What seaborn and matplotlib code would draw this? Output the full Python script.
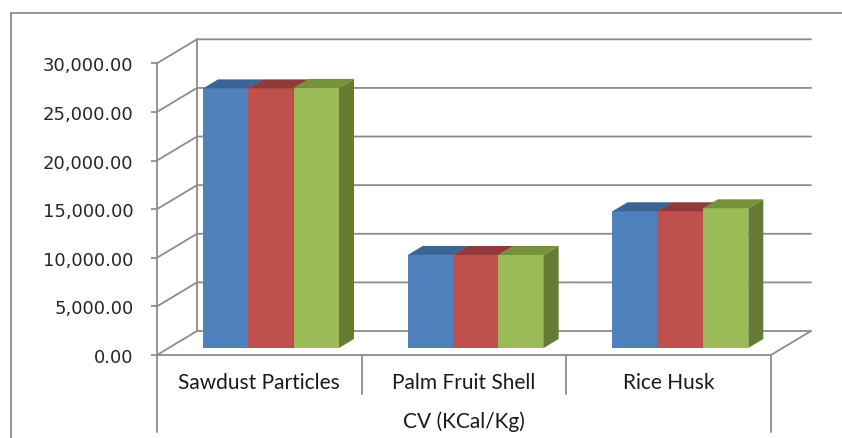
import numpy as np
import pandas as pd
import matplotlib
matplotlib.use("Agg")
import matplotlib.pyplot as plt
import seaborn as sns
from matplotlib.patches import Polygon
from matplotlib.lines import Line2D
from matplotlib.ticker import FuncFormatter

# ---------------- data ----------------
categories = ["Sawdust Particles", "Palm Fruit Shell", "Rice Husk"]
series_names = ["Series 1", "Series 2", "Series 3"]
series1 = [26700, 9570, 14060]
series2 = [26700, 9570, 14060]
series3 = [26750, 9570, 14370]
y_ticks = [0, 5000, 10000, 15000, 20000, 25000, 30000]
x_label = "CV (KCal/Kg)"

front_colors = ["#4F81BD", "#C0504D", "#9BBB59"]
top_colors = ["#3B6394", "#8E3B39", "#76923C"]
side_colors = ["#385D8A", "#8A3734", "#657A33"]
grid_color = "#8C8C8C"

df = pd.DataFrame({
    "category": categories * 3,
    "series": np.repeat(series_names, 3),
    "value": series1 + series2 + series3,
})

sns.set_style("white")
plt.rcParams["font.family"] = ["DejaVu Sans"]

W, H = 842, 439
fig = plt.figure(figsize=(W / 100, H / 100), dpi=100)

# front plane of the 3-D box (pixels)
x0, x1 = 157, 771
y0, y1 = 356, 64.3
ax = fig.add_axes([x0 / W, 1 - y0 / H, (x1 - x0) / W, (y0 - y1) / H])

sns.barplot(data=df, x="category", y="value", hue="series", palette=front_colors,
            saturation=1, width=0.664, gap=0, legend=False, errorbar=None, ax=ax)

ax.set_xlim(-0.5, 2.5)
ax.set_ylim(0, 30000)

# pixel -> data conversions for the depth effect
px_x = (x1 - x0) / 3.0
px_y = (y0 - y1) / 30000.0
wall_dx, wall_dy = 40 / px_x, 24 / px_y
bar_dx, bar_dy = 11.7 / px_x, 7 / px_y
depth_dx, depth_dy = 15 / px_x, 9 / px_y

# back wall gridlines and floor
for v in y_ticks:
    ax.plot([-0.5, -0.5 + wall_dx, 2.5 + wall_dx], [v, v + wall_dy, v + wall_dy],
            color=grid_color, lw=1.3, clip_on=False, zorder=1)
ax.plot([-0.5 + wall_dx] * 2, [wall_dy, 30000 + wall_dy], color=grid_color, lw=1.3,
        clip_on=False, zorder=1)
ax.plot([2.5, 2.5 + wall_dx], [0, wall_dy], color=grid_color, lw=1.3, clip_on=False, zorder=1)

# 3-D bars: push fronts back a bit, add top and side faces
for i, cont in enumerate(ax.containers):
    for bar in cont:
        x = bar.get_x() + bar_dx
        w = bar.get_width()
        h = bar.get_height()
        bar.set_x(x)
        bar.set_y(bar_dy)
        bar.set_zorder(3 + i)
        bar.set_edgecolor("none")
        y = bar_dy
        top = Polygon([(x, y + h), (x + w, y + h), (x + w + depth_dx, y + h + depth_dy),
                       (x + depth_dx, y + h + depth_dy)], closed=True,
                      facecolor=top_colors[i], edgecolor="none", zorder=3 + i, clip_on=False)
        side = Polygon([(x + w, y), (x + w + depth_dx, y + depth_dy),
                        (x + w + depth_dx, y + h + depth_dy), (x + w, y + h)], closed=True,
                       facecolor=side_colors[i], edgecolor="none", zorder=3 + i, clip_on=False)
        ax.add_patch(top)
        ax.add_patch(side)

# spines / ticks
for s in ["top", "right"]:
    ax.spines[s].set_visible(False)
for s in ["left", "bottom"]:
    ax.spines[s].set_color(grid_color)
    ax.spines[s].set_linewidth(1.3)

ax.set_yticks(y_ticks)
ax.yaxis.set_major_formatter(FuncFormatter(lambda v, p: f"{v:,.2f}"))
ax.tick_params(axis="y", left=True, length=4, width=1.3, color=grid_color, pad=13,
               labelsize=13, labelcolor="#262626")
ax.tick_params(axis="x", length=0, pad=12.5, labelsize=15, labelcolor="#1A1A1A")
for lab in ax.get_xticklabels():
    lab.set_family("Lato")
ax.set_ylabel("")
ax.set_xlabel(x_label, family="Lato", fontsize=15, color="#1A1A1A", labelpad=13)

# category table lines below the floor
xt = ax.get_xaxis_transform()
for xv, bottom in [(-0.5, -0.264), (0.5, -0.134), (1.5, -0.134), (2.5, -0.264)]:
    ax.plot([xv, xv], [0, bottom], transform=xt, color=grid_color, lw=1.3, clip_on=False)

# chart area border (left and top)
fig.add_artist(Line2D([11 / W, 11 / W], [0, 1 - 14 / H], color=grid_color, lw=1.3))
fig.add_artist(Line2D([11 / W, 1], [1 - 14 / H, 1 - 14 / H], color=grid_color, lw=1.3))

fig.savefig("out.png", dpi=100)
